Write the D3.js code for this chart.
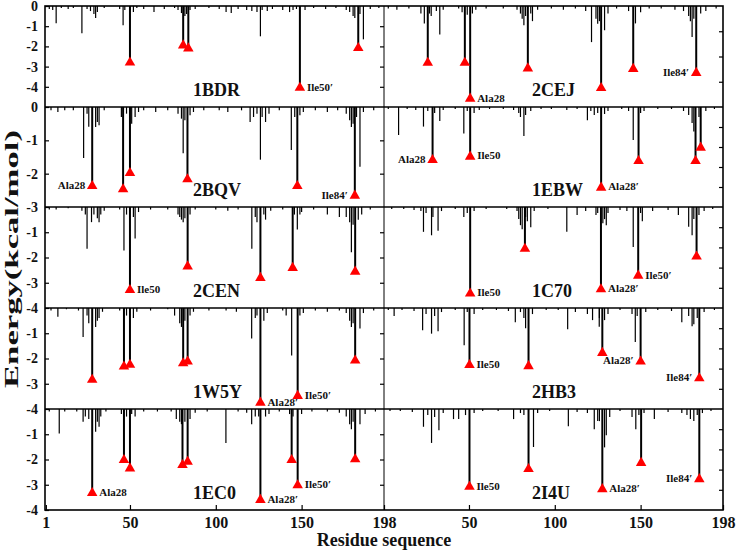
<!DOCTYPE html>
<html>
<head>
<meta charset="utf-8">
<script src="https://cdn.jsdelivr.net/npm/d3@7"></script>
<style>
  body { margin: 0; background: #fff; }
  svg { display: block; }
  text { font-family: "Liberation Serif", "Times New Roman", serif; font-weight: bold; fill: #111; }
</style>
</head>
<body>
<svg id="chart" width="737" height="550"></svg>
<script>
// Panels in reading order: left column then right column, row by row.
const names = ["1BDR", "2CEJ", "2BQV", "1EBW", "2CEN", "1C70", "1W5Y", "2HB3", "1EC0", "2I4U"];
const yBottom = [-5, -4, -3, -5, -4, -5, -4, -5, -4, -5];
const leftTicks = [[0, -1, -2, -3, -4], [0, -1, -2, -3], [-1, -2, -3, -4], [-1, -2, -3, -4], [-1, -2, -3, -4]];
const rightTicks = [[-1, -2, -3, -4], [-1, -2, -3], [-1, -2], [-1, -2, -3, -4], [-1, -2, -3], [-1, -2, -3, -4],
                    [-1, -2, -3], [-1, -2, -3, -4], [-1, -2, -3], [-1, -2, -3, -4]];
const xTicksLeft = [1, 50, 100, 150, 198];
const xTicksRight = [50, 100, 150, 198];

// residue, energy (kcal/mol) for the key residues drawn with a red triangle
const hot = [
  [[50, -2.8], [81, -1.95], [84, -2.1], [149, -4.05], [183, -2.08]],
  [[26, -2.25], [47.6, -2.25], [50.7, -3.67], [84.3, -2.47], [127, -3.25], [145.7, -2.49], [182.4, -2.65]],
  [[28, -2.37], [46, -2.47], [50, -1.98], [83.5, -2.17], [147.5, -2.37], [181, -2.66]],
  [[28.8, -2.65], [50.7, -2.48], [127, -4.03], [148.8, -2.7], [182, -2.7], [185, -2.03]],
  [[50, -3.29], [83.6, -2.35], [126, -2.81], [144.8, -2.41], [181.2, -2.56]],
  [[50.7, -4.28], [82.6, -2.07], [126.9, -4.07], [148.6, -3.4], [182.6, -2.45]],
  [[28, -2.84], [46.5, -2.32], [50, -2.25], [81, -2.19], [83.6, -2.12], [126, -3.75], [147.7, -3.48], [181.2, -2.08]],
  [[50.3, -2.82], [84.7, -2.88], [127.7, -2.22], [150, -2.65], [184.2, -3.48]],
  [[28, -3.33], [46.5, -2.02], [50, -2.35], [80.6, -2.22], [83.6, -2.09], [126, -3.6], [144.2, -2.02], [147.7, -3.02], [181.2, -1.99]],
  [[50.3, -3.85], [84.7, -2.97], [127.7, -3.97], [150.3, -2.67], [184.2, -3.47]]
];

// residue, energy for the remaining per-residue contributions
const rest = [
  [[3,-0.15],[5,-0.2],[7,-0.85],[10,-0.1],[14,-0.15],[17,-0.1],[22,-1.35],[25,-0.15],[27,-0.25],[29,-0.4],[30,-0.6],[31,-0.3],
   [35,-0.1],[44,-0.15],[46,-0.95],[47,-0.2],[52,-0.3],[54,-0.1],[58,-0.15],[64,-0.3],[70,-0.15],[76,-0.1],[78,-0.2],[80,-0.35],
   [82,-0.5],[83,-0.4],[85,-0.2],[88,-0.15],[96,-0.1],[102,-0.15],[106,-0.3],[109,-0.35],[113,-0.15],[118,-0.2],[121,-0.25],
   [124,-0.3],[126,-1.5],[127,-0.2],[130,-0.25],[133,-0.15],[139,-0.2],[143,-0.3],[145,-0.2],[147,-0.15],[152,-0.2],[157,-0.1],
   [164,-0.15],[170,-0.1],[176,-0.2],[178,-0.3],[180,-0.5],[181,-0.6],[184,-0.4],[186,-1.65],[190,-0.15],[195,-0.1]],
  [[3,-0.1],[8,-0.15],[15,-0.1],[22,-0.3],[24,-0.69],[27,-0.3],[28,-0.4],[31,-0.2],[33,-1.13],[35,-0.15],[44,-0.1],[46,-0.25],
   [49,-0.35],[52,-0.3],[54,-0.15],[60,-0.1],[70,-0.1],[78,-0.15],[80,-0.3],[81,-0.5],[82,-0.76],[83,-0.4],[86,-0.3],[87,-0.6],
   [90,-0.15],[98,-0.1],[105,-0.15],[112,-0.1],[118,-0.2],[121.4,-1.43],[124,-0.5],[125,-0.7],[126,-0.6],[129,-0.96],[131,-0.3],
   [136,-0.1],[143,-0.2],[147,-0.69],[150,-0.25],[155,-0.1],[162,-0.1],[170,-0.15],[175,-0.2],[178,-0.4],[179,-0.6],[180,-1.23],
   [181,-0.5],[185,-0.3],[188,-0.2],[194,-0.1]],
  [[4,-0.1],[8,-0.15],[12,-0.1],[17,-0.1],[23,-1.53],[25,-0.2],[26,-0.59],[30,-0.6],[31,-0.45],[32,-0.55],[35,-0.1],[45,-0.3],
   [48,-0.2],[51,-0.5],[53,-0.3],[55,-0.15],[58,-0.1],[65,-0.15],[72,-0.1],[78,-0.2],[80,-0.35],[81,-1.39],[82,-0.4],[85,-0.25],
   [87,-0.15],[93,-0.1],[102,-0.1],[107,-0.15],[115,-0.1],[120,-0.45],[122,-0.3],[124,-0.2],[126,-1.58],[127,-0.3],[129,-0.45],
   [131,-0.2],[137,-0.1],[144,-1.29],[146,-0.3],[149,-0.25],[151,-0.15],[158,-0.1],[165,-0.15],[171,-0.1],[176,-0.2],[178,-0.4],
   [179,-0.6],[180,-0.5],[182,-0.3],[184,-1.79],[186,-0.15],[192,-0.1]],
  [[3,-0.1],[9,-1.4],[14,-0.1],[19,-0.15],[23.5,-0.98],[26,-0.2],[30,-0.3],[33,-0.7],[35,-0.15],[42,-0.1],[47,-1.32],[49,-0.2],
   [53,-0.3],[56,-0.15],[62,-0.1],[70,-0.1],[76,-0.15],[79,-0.3],[80,-0.5],[82,-1.45],[83,-0.4],[86,-0.2],[92,-0.1],[98,-0.1],
   [107,-0.15],[113,-0.1],[119,-0.66],[121,-0.2],[123,-0.4],[125,-0.3],[129,-0.35],[131,-0.2],[139,-0.1],[143,-0.2],
   [145.7,-1.65],[150,-0.3],[152,-0.2],[160,-0.1],[168,-0.1],[175,-0.2],[178,-0.4],[180,-0.8],[181,-1.23],[184,-0.5],
   [188,-0.2],[193,-0.1]],
  [[3,-0.1],[7,-0.1],[14,-0.05],[22,-0.15],[24,-0.3],[25,-1.65],[27.6,-0.6],[29,-0.3],[31,-0.45],[32,-0.6],[33,-0.3],[35,-0.15],
   [44,-0.1],[46.5,-1.72],[48,-0.3],[52,-0.4],[53,-1.25],[55,-0.2],[62,-0.1],[72,-0.1],[78,-0.3],[79,-0.4],[80,-0.5],[81,-0.6],
   [82,-0.45],[85,-0.3],[88,-0.1],[100,-0.1],[107,-0.15],[113,-0.1],[121,-1.65],[123,-0.4],[124,-0.6],[128,-0.3],[129,-0.5],
   [132,-0.15],[139,-0.1],[145.8,-0.3],[147.5,-0.89],[149,-0.3],[150,-0.2],[157,-0.1],[165,-0.3],[172,-0.4],[176,-0.4],
   [178,-0.6],[179,-1.79],[180,-0.7],[183,-0.5],[185,-0.3],[190,-0.1]],
  [[5,-0.1],[12,-0.1],[18,-0.15],[22,-0.2],[23.5,-1.23],[25,-0.3],[28.2,-1.4],[29,-0.5],[32,-1.17],[34,-0.2],[42,-0.1],[47,-0.5],
   [49,-0.3],[53,-0.2],[60,-0.1],[72,-0.1],[78,-0.2],[79,-0.6],[80,-0.9],[81,-1.1],[83,-0.5],[84,-0.7],[86,-1.0],[88,-0.2],
   [96,-0.1],[107,-1.23],[113,-0.4],[118,-0.2],[124,-0.4],[125,-0.3],[128,-0.8],[129,-0.6],[130,-0.9],[131,-0.3],[138,-0.15],
   [142,-0.2],[145.7,-1.98],[150,-0.3],[151,-0.7],[157,-0.2],[166,-0.15],[172,-0.4],[178,-0.98],[180,-1.4],[181,-0.6],
   [184,-0.4],[187,-0.2],[192,-0.1]],
  [[4,-0.1],[8,-0.35],[13,-0.05],[20,-0.1],[22.7,-1.15],[25,-0.3],[26,-0.6],[30,-0.75],[31,-0.5],[32,-0.4],[34,-0.15],[44,-0.1],
   [48,-0.3],[52,-0.4],[54,-0.15],[62,-0.1],[72,-0.05],[76,-0.3],[79,-0.6],[80,-0.75],[82,-0.5],[85,-0.3],[87,-0.15],[96,-0.1],
   [106,-0.1],[112,-0.15],[120.9,-1.21],[123,-0.4],[124,-0.3],[128,-0.5],[130,-0.2],[139,-0.1],[141,-0.3],[144.2,-1.88],
   [149,-0.3],[151,-0.2],[158,-0.1],[165,-0.15],[172,-0.1],[176,-0.2],[178,-0.5],[179,-0.75],[180,-0.6],[184,-0.81],[186,-0.2],
   [192,-0.1]],
  [[3,-0.1],[6.4,-0.4],[11,-0.1],[18,-0.15],[23,-1.1],[25,-0.3],[28.2,-1.27],[30,-0.4],[32,-1.15],[34,-0.2],[42,-0.1],
   [47.2,-1.85],[49,-0.2],[53,-0.3],[58,-0.1],[66,-0.1],[73,-0.15],[77,-0.7],[80,-0.2],[82,-0.5],[83,-1.0],[87,-0.3],[95,-0.1],
   [102,-0.1],[107.5,-1.05],[112,-0.2],[119,-0.3],[122,-0.6],[125.9,-0.93],[126,-0.5],[129,-0.6],[131,-0.3],[138,-0.1],
   [145,-0.3],[146.9,-1.68],[148,-0.4],[153,-0.2],[160,-0.1],[168,-0.15],[174,-0.7],[178,-0.4],[180,-0.9],[181,-0.8],
   [183,-0.5],[187,-0.2],[193,-0.1]],
  [[3,-0.1],[8.8,-0.97],[12,-0.1],[19,-0.1],[22.7,-0.5],[24,-0.3],[26,-0.4],[30,-0.9],[31,-0.5],[32,-0.7],[33,-0.3],[36,-0.1],
   [45,-0.2],[48,-0.3],[51,-0.2],[53,-0.3],[58,-0.1],[66,-0.1],[74,-0.1],[77,-0.4],[79,-0.5],[80,-0.6],[82,-0.5],[85,-0.4],
   [88,-0.15],[95,-0.1],[105.9,-1.35],[113,-0.1],[118,-0.15],[120.9,-0.6],[123,-0.3],[125,-0.3],[129,-0.3],[131,-0.2],
   [137,-0.1],[143,-0.2],[145,-0.3],[150,-0.2],[156,-0.1],[165,-0.1],[172,-0.15],[176,-0.3],[178,-0.6],[179,-0.8],[180,-0.5],
   [184,-0.6],[187,-0.2],[193,-0.1]],
  [[4,-0.1],[10,-0.1],[17,-0.15],[23.5,-0.88],[26,-0.3],[28.2,-1.68],[30,-0.4],[32.5,-1.05],[35,-0.2],[41,-0.5],[44,-0.5],
   [48,-0.3],[53,-0.2],[58,-0.1],[67,-0.1],[76,-0.5],[80,-0.2],[82,-0.3],[87.6,-1.88],[90,-0.2],[97,-0.1],[107.9,-0.85],
   [113,-0.15],[119,-0.2],[123,-1.0],[125,-0.6],[126,-0.6],[129,-1.9],[130,-1.3],[132,-0.4],[138,-0.1],[145,-0.4],[147.2,-1.0],
   [149,-0.3],[152,-0.2],[158,-0.5],[166,-0.15],[174,-0.2],[177,-0.3],[179,-0.5],[181,-0.6],[183,-0.3],[186,-0.2],[191,-0.1]]
];

// residue of the triangle, annotation text
const notes = [
  [[149, "Ile50\u2032"]],
  [[50.7, "Ala28"], [182.4, "Ile84\u2032"]],
  [[28, "Ala28"], [181, "Ile84\u2032"]],
  [[28.8, "Ala28"], [50.7, "Ile50"], [127, "Ala28\u2032"]],
  [[50, "Ile50"]],
  [[50.7, "Ile50"], [126.9, "Ala28\u2032"], [148.6, "Ile50\u2032"]],
  [[126, "Ala28\u2032"], [147.7, "Ile50\u2032"]],
  [[50.3, "Ile50"], [150, "Ala28\u2032"], [184.2, "Ile84\u2032"]],
  [[28, "Ala28"], [126, "Ala28\u2032"], [147.7, "Ile50\u2032"]],
  [[50.3, "Ile50"], [127.7, "Ala28\u2032"], [184.2, "Ile84\u2032"]]
];
// notes written to the left of their triangle (panel:residue)
const leftSide = new Set(["1:182.4", "2:28", "2:181", "3:28.8", "7:150", "7:184.2", "9:184.2"]);

const svg = d3.select("#chart");
const colX = [[45, 384], [384, 723]];
const rowY = [6, 107, 207, 308, 409, 510];
const RED = "#ff0000";

const xs = colX.map(r => d3.scaleLinear().domain([0.5, 198]).range(r));

names.forEach((name, i) => {
  const col = i % 2, row = Math.floor(i / 2);
  const x = xs[col];
  const y = d3.scaleLinear().domain([0, yBottom[i]]).range([rowY[row], rowY[row + 1]]);
  const g = svg.append("g");

  g.selectAll("line.bar").data(rest[i]).join("line").attr("class", "bar")
    .attr("x1", d => x(d[0])).attr("x2", d => x(d[0]))
    .attr("y1", y(0)).attr("y2", d => y(d[1]))
    .attr("stroke", "#000").attr("stroke-width", 1.2);

  g.selectAll("line.hot").data(hot[i]).join("line").attr("class", "hot")
    .attr("x1", d => x(d[0])).attr("x2", d => x(d[0]))
    .attr("y1", y(0)).attr("y2", d => y(d[1]))
    .attr("stroke", "#000").attr("stroke-width", 2);

  g.selectAll("path.tri").data(hot[i]).join("path").attr("class", "tri")
    .attr("d", d3.symbol(d3.symbolTriangle, 48))
    .attr("transform", d => `translate(${x(d[0])},${y(d[1])})`)
    .attr("fill", RED);

  notes[i].forEach(([res, label]) => {
    const v = hot[i].find(d => d[0] === res)[1];
    const left = leftSide.has(`${i}:${res}`);
    g.append("text")
      .attr("x", x(res) + (left ? -7 : 7)).attr("y", y(v) - 1)
      .attr("dy", "0.35em").attr("text-anchor", left ? "end" : "start")
      .attr("font-size", 11).text(label);
  });

  g.append("text")
    .attr("x", colX[col][0] + 148).attr("y", rowY[row + 1] - 11)
    .attr("font-size", 18).text(name);

  // inward ticks on the right edge of every panel
  const gr = g.append("g").attr("transform", `translate(${colX[col][1]},0)`)
    .call(d3.axisRight(y).tickValues(rightTicks[i]).tickSizeInner(-4).tickSizeOuter(0).tickFormat(""));
  gr.select(".domain").remove();
  gr.selectAll("line").attr("stroke", "#000").attr("stroke-width", 1.2);

  if (col === 0) {
    const gl = g.append("g").attr("transform", `translate(${colX[0][0]},0)`)
      .call(d3.axisLeft(y).tickValues(leftTicks[row]).tickSizeInner(-4).tickSizeOuter(0)
        .tickPadding(7).tickFormat(d => String(d)));
    gl.select(".domain").remove();
    gl.selectAll("line").attr("stroke", "#000").attr("stroke-width", 1.2);
    gl.selectAll("text").attr("font-size", 14).attr("font-family", null);
  }
});

// frames
const frame = svg.append("g").attr("fill", "none").attr("stroke", "#000");
frame.append("rect").attr("x", colX[0][0]).attr("y", rowY[0])
  .attr("width", colX[1][1] - colX[0][0]).attr("height", rowY[5] - rowY[0]).attr("stroke-width", 1.6);
rowY.slice(1, 5).forEach(yy => frame.append("line")
  .attr("x1", colX[0][0]).attr("x2", colX[1][1]).attr("y1", yy).attr("y2", yy).attr("stroke-width", 1.6));
frame.append("line").attr("x1", colX[0][1]).attr("x2", colX[0][1])
  .attr("y1", rowY[0]).attr("y2", rowY[5]).attr("stroke-width", 1);

// bottom axes
[[xs[0], xTicksLeft], [xs[1], xTicksRight]].forEach(([x, ticks]) => {
  const ga = svg.append("g").attr("transform", `translate(0,${rowY[5]})`)
    .call(d3.axisBottom(x).tickValues(ticks).tickSizeInner(-5).tickSizeOuter(0).tickPadding(7));
  ga.select(".domain").remove();
  ga.selectAll("line").attr("stroke", "#000").attr("stroke-width", 1.2);
  ga.selectAll("text").attr("font-size", 16).attr("font-family", null);
});

svg.append("text")
  .attr("x", (colX[0][0] + colX[1][1]) / 2).attr("y", 546)
  .attr("text-anchor", "middle").attr("font-size", 18).text("Residue sequence");

svg.append("text")
  .attr("transform", "translate(18,259) rotate(-90)")
  .attr("text-anchor", "middle").attr("font-size", 18)
  .attr("textLength", 258).attr("lengthAdjust", "spacingAndGlyphs")
  .text("Energy(kcal/mol)");
</script>
</body>
</html>
